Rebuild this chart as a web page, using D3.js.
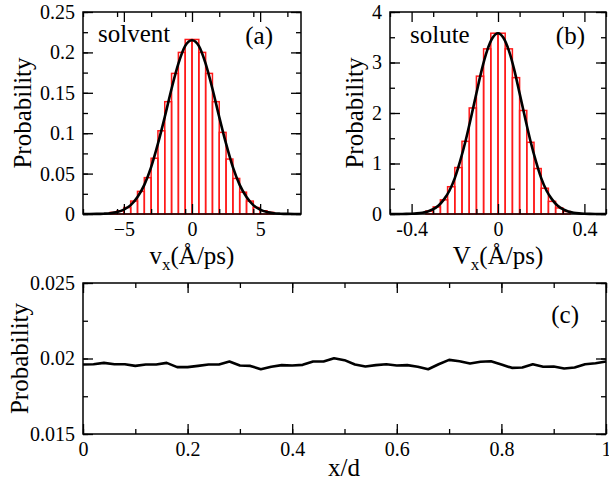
<!DOCTYPE html>
<html>
<head>
<meta charset="utf-8">
<script src="https://cdn.jsdelivr.net/npm/d3@7"></script>
<style>
  body { margin: 0; background: #fff; }
</style>
</head>
<body>
<div id="chart"></div>
<script>
// Histogram bins (left edges) and heights.
const solventEdges = [-6, -5.5, -5, -4.5, -4, -3.5, -3, -2.5, -2, -1.5, -1, -0.5,
    0, 0.5, 1, 1.5, 2, 2.5, 3, 3.5, 4, 4.5, 5, 5.5];
const solventProb = [0.002, 0.004, 0.008, 0.016, 0.028, 0.045, 0.069, 0.103, 0.139, 0.174, 0.200, 0.216,
    0.216, 0.200, 0.174, 0.139, 0.101, 0.068, 0.044, 0.027, 0.016, 0.008, 0.004, 0.002];
const solventBinWidth = 0.5;

// Maxwell fit for the solvent (a).
const solventFitX = [-8, -7.5, -7, -6.5, -6, -5.5, -5, -4.5, -4, -3.5, -3, -2.5, -2, -1.5, -1, -0.5,
    0, 0.5, 1, 1.5, 2, 2.5, 3, 3.5, 4, 4.5, 5, 5.5, 6, 6.5, 7, 7.5, 8];
const solventFitY = [0, 0, 0.0001, 0.0004, 0.001, 0.0025, 0.0055, 0.011, 0.021, 0.036, 0.058, 0.087, 0.120, 0.155, 0.186, 0.208,
    0.215, 0.208, 0.186, 0.155, 0.120, 0.087, 0.058, 0.036, 0.021, 0.011, 0.0055, 0.0025, 0.001, 0.0004, 0.0001, 0, 0];

const soluteEdges = [-0.3333, -0.3, -0.2667, -0.2333, -0.2, -0.1667, -0.1333, -0.1, -0.0667, -0.0333,
    0, 0.0333, 0.0667, 0.1, 0.1333, 0.1667, 0.2, 0.2333, 0.2667, 0.3];
const soluteProb = [0.06, 0.14, 0.28, 0.54, 0.92, 1.44, 2.10, 2.73, 3.27, 3.58,
    3.58, 3.27, 2.70, 2.05, 1.42, 0.90, 0.51, 0.25, 0.12, 0.05];
const soluteBinWidth = 0.0333;

const soluteFitX = [-0.5, -0.475, -0.45, -0.425, -0.4, -0.375, -0.35, -0.325, -0.3, -0.275, -0.25, -0.225, -0.2,
    -0.175, -0.15, -0.125, -0.1, -0.075, -0.05, -0.025, 0, 0.025, 0.05, 0.075, 0.1, 0.125, 0.15, 0.175,
    0.2, 0.225, 0.25, 0.275, 0.3, 0.325, 0.35, 0.375, 0.4, 0.425, 0.45, 0.475, 0.5];
const soluteFitY = [0, 0.0005, 0.001, 0.002, 0.005, 0.012, 0.025, 0.05, 0.095, 0.17, 0.29, 0.46, 0.71,
    1.05, 1.45, 1.91, 2.39, 2.86, 3.24, 3.49, 3.58, 3.49, 3.24, 2.86, 2.39, 1.91, 1.45, 1.05,
    0.71, 0.46, 0.29, 0.17, 0.095, 0.05, 0.025, 0.012, 0.005, 0.002, 0.001, 0.0005, 0];

// Density profile across the channel (c).
const profileX = [0, 0.02, 0.04, 0.06, 0.08, 0.1, 0.12, 0.14, 0.16, 0.18, 0.2, 0.22, 0.24, 0.26, 0.28, 0.3,
    0.32, 0.34, 0.36, 0.38, 0.4, 0.42, 0.44, 0.46, 0.48, 0.5, 0.52, 0.54, 0.56, 0.58, 0.6, 0.62, 0.64,
    0.66, 0.68, 0.7, 0.72, 0.74, 0.76, 0.78, 0.8, 0.82, 0.84, 0.86, 0.88, 0.9, 0.92, 0.94, 0.96, 0.98, 1];
const profileY = [0.01960, 0.01962, 0.01971, 0.01962, 0.01962, 0.01951, 0.01960, 0.01960, 0.01971, 0.01943,
    0.01943, 0.01951, 0.01960, 0.01960, 0.01980, 0.01954, 0.01951, 0.01929, 0.01945, 0.01956, 0.01954,
    0.01958, 0.01980, 0.01980, 0.02002, 0.01989, 0.01960, 0.01947, 0.01956, 0.01962, 0.01954, 0.01956,
    0.01945, 0.01929, 0.01962, 0.01991, 0.01982, 0.01967, 0.01978, 0.01982, 0.01960, 0.01938, 0.01940,
    0.01962, 0.01945, 0.01947, 0.01934, 0.01940, 0.01962, 0.01969, 0.01980];

const SERIF = "'Liberation Serif', serif";
const TICK_FONT = 20;
const LABEL_FONT = 25;

const svg = d3.select('#chart').append('svg')
    .attr('width', 609)
    .attr('height', 482);

// Plain text helper so every label gets the serif face.
function addText(x, y, str, size, anchor) {
    return svg.append('text')
        .attr('x', x).attr('y', y)
        .style('font-family', SERIF)
        .style('font-size', size + 'px')
        .attr('text-anchor', anchor || 'start')
        .text(str);
}

// Build one framed panel with inward ticks on all four sides.
function makePanel(cfg) {
    const x = d3.scaleLinear().domain(cfg.xDomain).range([cfg.left, cfg.right]);
    const y = d3.scaleLinear().domain(cfg.yDomain).range([cfg.bottom, cfg.top]);

    const g = svg.append('g');
    const marks = g.append('g');
    const axes = g.append('g');

    const minorX = d3.range(cfg.xDomain[0], cfg.xDomain[1] + 1e-9, cfg.xMinor);
    const minorY = d3.range(cfg.yDomain[0], cfg.yDomain[1] + 1e-9, cfg.yMinor);

    const addAxis = (axisFn, scale, tr, vals, size, fmt) => {
        const ax = axisFn(scale).tickValues(vals).tickSizeInner(-size).tickSizeOuter(0)
            .tickPadding(8)
            .tickFormat(fmt || '');
        const a = axes.append('g').attr('transform', tr).call(ax);
        a.select('.domain').remove();
        a.selectAll('line').attr('stroke', '#000').attr('stroke-width', 1.3);
        a.selectAll('text')
            .style('font-family', SERIF)
            .style('font-size', TICK_FONT + 'px')
            .attr('fill', '#000');
        return a;
    };
    // minor ticks
    addAxis(d3.axisBottom, x, `translate(0,${cfg.bottom})`, minorX, 5);
    addAxis(d3.axisTop, x, `translate(0,${cfg.top})`, minorX, 5);
    addAxis(d3.axisLeft, y, `translate(${cfg.left},0)`, minorY, 5);
    addAxis(d3.axisRight, y, `translate(${cfg.right},0)`, minorY, 5);
    // major ticks, labelled bottom and left
    addAxis(d3.axisBottom, x, `translate(0,${cfg.bottom})`, cfg.xTicks, 10, cfg.xFmt);
    addAxis(d3.axisTop, x, `translate(0,${cfg.top})`, cfg.xTicks, 10);
    addAxis(d3.axisLeft, y, `translate(${cfg.left},0)`, cfg.yTicks, 10, cfg.yFmt);
    addAxis(d3.axisRight, y, `translate(${cfg.right},0)`, cfg.yTicks, 10);

    g.append('rect')
        .attr('x', cfg.left).attr('y', cfg.top)
        .attr('width', cfg.right - cfg.left).attr('height', cfg.bottom - cfg.top)
        .attr('fill', 'none').attr('stroke', '#000').attr('stroke-width', 1.5);

    g.append('text')
        .attr('transform', `translate(${cfg.yLabelX},${(cfg.top + cfg.bottom) / 2}) rotate(-90)`)
        .attr('text-anchor', 'middle')
        .style('font-family', SERIF)
        .style('font-size', LABEL_FONT + 'px')
        .text('Probability');

    return {g, marks, x, y};
}

function drawHist(p, edges, probs, width) {
    p.marks.selectAll('rect.bar')
        .data(edges.map((e, i) => ({e, v: probs[i]})))
        .join('rect')
        .attr('class', 'bar')
        .attr('x', d => p.x(d.e))
        .attr('width', d => p.x(d.e + width) - p.x(d.e))
        .attr('y', d => p.y(d.v))
        .attr('height', d => p.y(0) - p.y(d.v))
        .attr('fill', 'none')
        .attr('stroke', '#ff1a1a')
        .attr('stroke-width', 1.5);
}

function drawLine(p, xs, ys, curve) {
    const line = d3.line()
        .x(d => p.x(d[0]))
        .y(d => p.y(d[1]))
        .curve(curve);
    p.marks.append('path')
        .datum(xs.map((v, i) => [v, ys[i]]))
        .attr('d', line)
        .attr('fill', 'none')
        .attr('stroke', '#000')
        .attr('stroke-width', 2.6)
        .attr('stroke-linejoin', 'round');
}

function velocityLabel(cx, base, letter) {
    const t = addText(cx, base, '', LABEL_FONT, 'middle');
    t.append('tspan').text(letter);
    t.append('tspan').style('font-size', '17px').attr('dy', 6).text('x');
    t.append('tspan').attr('dy', -6).text('(Å/ps)');
}

// (a) solvent
const pa = makePanel({
    left: 83, right: 301, top: 12, bottom: 214,
    xDomain: [-8, 8], yDomain: [0, 0.25],
    xTicks: [-5, 0, 5], xMinor: 2.5,
    yTicks: [0, 0.05, 0.1, 0.15, 0.2, 0.25], yMinor: 0.025,
    xFmt: d3.format('d'), yFmt: d => String(+d.toFixed(2)),
    yLabelX: 31
});
drawHist(pa, solventEdges, solventProb, solventBinWidth);
drawLine(pa, solventFitX, solventFitY, d3.curveMonotoneX);
velocityLabel(192, 264, 'v');
addText(98, 42, 'solvent', LABEL_FONT);
addText(273, 44, '(a)', LABEL_FONT, 'end');

// (b) solute
const pb = makePanel({
    left: 390, right: 606, top: 12, bottom: 214,
    xDomain: [-0.5, 0.5], yDomain: [0, 4],
    xTicks: [-0.4, 0, 0.4], xMinor: 0.2,
    yTicks: [0, 1, 2, 3, 4], yMinor: 0.5,
    xFmt: d => String(+d.toFixed(1)), yFmt: d3.format('d'),
    yLabelX: 363
});
drawHist(pb, soluteEdges, soluteProb, soluteBinWidth);
drawLine(pb, soluteFitX, soluteFitY, d3.curveMonotoneX);
velocityLabel(498, 264, 'V');
addText(410, 43, 'solute', LABEL_FONT);
addText(585, 44, '(b)', LABEL_FONT, 'end');

// (c) density profile
const pc = makePanel({
    left: 83, right: 606, top: 283, bottom: 434,
    xDomain: [0, 1], yDomain: [0.015, 0.025],
    xTicks: [0, 0.2, 0.4, 0.6, 0.8, 1], xMinor: 0.1,
    yTicks: [0.015, 0.02, 0.025], yMinor: 0.0025,
    xFmt: d => String(+d.toFixed(1)), yFmt: d => String(+d.toFixed(3)),
    yLabelX: 28
});
drawLine(pc, profileX, profileY, d3.curveLinear);
addText(344, 476, 'x/d', LABEL_FONT, 'middle');
addText(579, 323, '(c)', LABEL_FONT, 'end');
</script>
</body>
</html>
